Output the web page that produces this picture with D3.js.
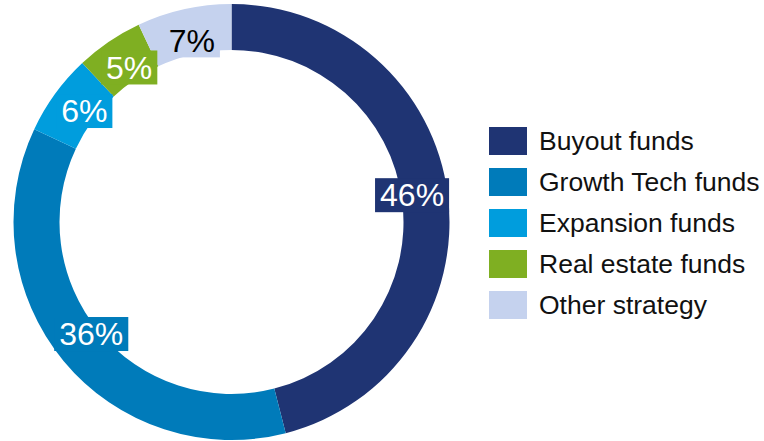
<!DOCTYPE html>
<html>
<head>
<meta charset="utf-8">
<script src="https://cdn.jsdelivr.net/npm/d3@7"></script>
<style>
  html, body { margin: 0; padding: 0; background: #ffffff; }
  svg { display: block; font-family: "Liberation Sans", Arial, sans-serif; }
</style>
</head>
<body>
<svg id="chart" width="764" height="441"></svg>
<script>
// Fund strategy split (percent of total)
const categories = ["Buyout funds", "Growth Tech funds", "Expansion funds", "Real estate funds", "Other strategy"];
const shares = [46, 36, 6, 5, 7];
const colors = ["#1f3473", "#007bba", "#009ddd", "#7faf22", "#c5d2ee"];
const labelColors = ["#ffffff", "#ffffff", "#ffffff", "#ffffff", "#000000"];

const data = categories.map((name, i) => ({ name, value: shares[i], color: colors[i], text: labelColors[i] }));

const svg = d3.select("#chart");
const cx = 231.5, cy = 222;
const outerR = 218, innerR = 172, labelR = 182;

const pie = d3.pie().value(d => d.value).sort(null);
const arcs = pie(data);

const arc = d3.arc().innerRadius(innerR).outerRadius(outerR);
const labelArc = d3.arc().innerRadius(labelR).outerRadius(labelR);

const g = svg.append("g").attr("transform", `translate(${cx},${cy})`);

g.selectAll("path.slice")
  .data(arcs)
  .enter().append("path")
  .attr("class", "slice")
  .attr("d", arc)
  .attr("fill", d => d.data.color);

// Value labels on colored boxes
const labels = g.selectAll("g.lbl")
  .data(arcs)
  .enter().append("g")
  .attr("class", "lbl")
  .attr("transform", d => {
    const [x, y] = labelArc.centroid(d);
    return `translate(${x},${y - 4})`;
  });

labels.each(function(d) {
  const sel = d3.select(this);
  const rect = sel.append("rect").attr("fill", d.data.color);
  const t = sel.append("text")
    .attr("text-anchor", "middle")
    .attr("dy", "0.35em")
    .attr("font-size", 32)
    .attr("fill", d.data.text)
    .text(d.data.value + "%");
  const bb = t.node().getBBox();
  const w = bb.width + 10, h = 34;
  rect.attr("x", -w / 2).attr("y", -h / 2).attr("width", w).attr("height", h);
});

// Legend
const legend = svg.append("g").attr("transform", "translate(489,127)");
const step = 41;
const items = legend.selectAll("g.item")
  .data(data)
  .enter().append("g")
  .attr("class", "item")
  .attr("transform", (d, i) => `translate(0,${i * step})`);

items.append("rect")
  .attr("width", 38)
  .attr("height", 28)
  .attr("fill", d => d.color);

items.append("text")
  .attr("x", 50)
  .attr("y", 14)
  .attr("dy", "0.35em")
  .attr("font-size", 26.5)
  .attr("fill", "#111111")
  .text(d => d.name);
</script>
</body>
</html>
